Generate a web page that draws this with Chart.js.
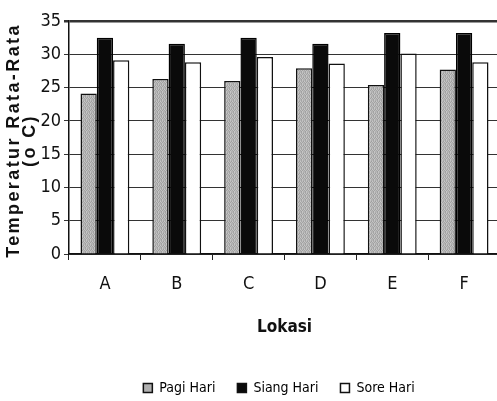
<!DOCTYPE html>
<html>
<head>
<meta charset="utf-8">
<script src="https://cdn.jsdelivr.net/npm/chart.js@4/dist/chart.umd.min.js"></script>
<style>
  html, body { margin: 0; padding: 0; background: #ffffff; overflow: hidden; }
  #wrap { position: relative; width: 510px; height: 401px; }
</style>
</head>
<body>
<div id="wrap"><canvas id="c"></canvas></div>
<script>
const categories = ['A', 'B', 'C', 'D', 'E', 'F'];
const seriesNames = ['Pagi Hari', 'Siang Hari', 'Sore Hari'];
const pagiHari = [24.1, 26.3, 26.0, 27.9, 25.4, 27.7];
const siangHari = [32.5, 31.6, 32.5, 31.6, 33.2, 33.2];
const soreHari = [29.1, 28.8, 29.6, 28.6, 30.1, 28.8];
const yMin = 0, yMax = 35, yStep = 5;
const yTitleLines = ['Temperatur Rata-Rata', '(o C)'];
const xTitle = 'Lokasi';

const NARROW = '"Liberation Sans Narrow", "DejaVu Sans Condensed", "Arial Narrow", sans-serif';

// deterministic stipple texture for the grey series
function stipple() {
  const c = document.createElement('canvas');
  c.width = 4; c.height = 4;
  const g = c.getContext('2d');
  const tones = [
    '#b8b8b8', '#a4a4a4', '#c4c4c4', '#acacac',
    '#c8c8c8', '#a8a8a8', '#bcbcbc', '#9e9e9e',
    '#a6a6a6', '#c2c2c2', '#a2a2a2', '#bebebe',
    '#b4b4b4', '#a0a0a0', '#c6c6c6', '#b0b0b0'
  ];
  for (let i = 0; i < 16; i++) { g.fillStyle = tones[i]; g.fillRect(i % 4, Math.floor(i / 4), 1, 1); }
  return g.createPattern(c, 'repeat');
}

const yTitlePlugin = {
  id: 'yTitle',
  afterDraw(chart) {
    const ctx = chart.ctx;
    const cy = (chart.chartArea.top + chart.chartArea.bottom) / 2 + 3;
    const xs = [14, 30];
    ctx.save();
    ctx.fillStyle = '#111';
    ctx.font = 'bold 18px "Liberation Sans", Arial, sans-serif';
    ctx.textAlign = 'center';
    ctx.textBaseline = 'middle';
    try { ctx.letterSpacing = '2.4px'; } catch (e) {}
    yTitleLines.forEach((t, i) => {
      ctx.save();
      ctx.translate(xs[i], cy);
      ctx.rotate(-Math.PI / 2);
      ctx.fillText(t, 0, 0);
      ctx.restore();
    });
    ctx.restore();
  }
};

// centre the legend under the plot area (as in the original figure)
const legendShift = {
  id: 'legendShift',
  afterLayout(chart) {
    const lg = chart.legend;
    if (!lg) return;
    const dx = 29;
    lg.left += dx; lg.right += dx;
    if (lg.legendHitBoxes) lg.legendHitBoxes.forEach(h => { h.left += dx; });
  }
};

new Chart(document.getElementById('c'), {
  type: 'bar',
  data: {
    labels: categories,
    datasets: [
      { label: seriesNames[0], data: pagiHari, backgroundColor: stipple(), borderColor: '#111', borderWidth: 1.5 },
      { label: seriesNames[1], data: siangHari, backgroundColor: '#0a0a0a', borderColor: '#000', borderWidth: 1.5 },
      { label: seriesNames[2], data: soreHari, backgroundColor: '#ffffff', borderColor: '#111', borderWidth: 1.5 }
    ]
  },
  options: {
    responsive: true,
    maintainAspectRatio: false,
    animation: false,
    layout: { padding: { left: 0, right: 10, top: 21, bottom: -4 } },
    datasets: { bar: { categoryPercentage: 0.68, barPercentage: 1.0 } },
    plugins: {
      legend: {
        position: 'bottom',
        labels: {
          boxWidth: 9, boxHeight: 9, padding: 22,
          color: '#111',
          font: { family: NARROW, size: 14 },
          generateLabels(chart) {
            return chart.data.datasets.map((d, i) => ({
              text: d.label,
              fillStyle: i === 0 ? '#b0b0b0' : d.backgroundColor,
              strokeStyle: '#111',
              lineWidth: 1.5,
              datasetIndex: i
            }));
          }
        }
      },
      tooltip: { enabled: false }
    },
    scales: {
      x: {
        grid: { offset: true, drawOnChartArea: false, color: '#222', tickLength: 6, lineWidth: 1 },
        border: { color: '#111', width: 1.5 },
        ticks: { color: '#111', font: { family: NARROW, size: 18 }, padding: 14 },
        title: { display: true, text: xTitle, color: '#111', font: { family: NARROW, size: 17, weight: 'bold' }, padding: { top: 14, bottom: 21 } },
        afterFit(scale) { scale.height = 105; }
      },
      y: {
        min: yMin, max: yMax,
        ticks: { stepSize: yStep, color: '#111', font: { family: NARROW, size: 18 }, padding: 3 },
        grid: {
          color: '#333',
          lineWidth: (c) => (c.tick && c.tick.value === yMax ? 2.5 : 1),
          tickLength: 5
        },
        border: { color: '#111', width: 1.5 },
        afterFit(scale) { scale.width = 69; }
      }
    }
  },
  plugins: [yTitlePlugin, legendShift]
});
</script>
</body>
</html>
